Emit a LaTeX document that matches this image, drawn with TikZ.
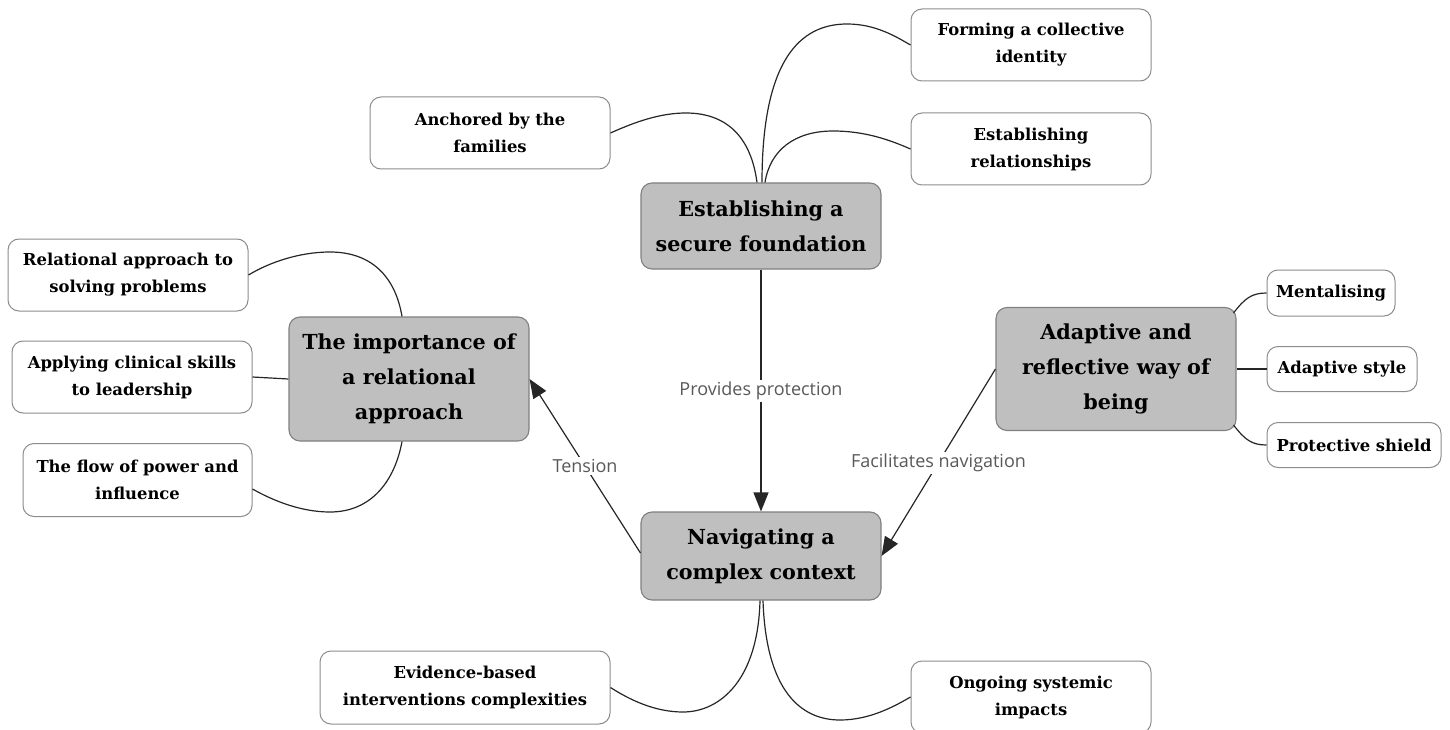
\documentclass[tikz,border=0pt]{standalone}
\usepackage{fontspec}
\setmainfont{DejaVu Serif}
\newfontfamily\labelfont{Open Sans}
\usetikzlibrary{arrows.meta}
\begin{document}
\begin{tikzpicture}[x=1pt,y=-1pt,
  mainbox/.style={draw=black!50, fill=black!25, rounded corners=11pt, line width=1.1pt, align=center,
    font=\fontsize{20.7}{35}\selectfont\bfseries, inner sep=0pt},
  leafbox/.style={draw=black!45, fill=white, rounded corners=11pt, line width=1pt, align=center,
    font=\fontsize{16.4}{27}\selectfont\bfseries, inner sep=0pt},
  link/.style={line width=1.2pt, black!85},
  arrowlink/.style={link, -{Triangle[length=19pt,width=15pt]}},
  lbl/.style={font=\labelfont\fontsize{18}{20}\selectfont, text=black!65, fill=white, inner sep=2pt}
]
\useasboundingbox (0,0) rectangle (1450,730);

% main nodes
\node[mainbox, minimum width=240pt, minimum height=86pt] (est) at (761,226) {Establishing a\\secure foundation};
\node[mainbox, minimum width=240pt, minimum height=124pt] (imp) at (409,379) {The importance of\\a relational\\approach};
\node[mainbox, minimum width=240pt, minimum height=123pt] (adp) at (1116,369) {Adaptive and\\reflective way of\\being};
\node[mainbox, minimum width=240pt, minimum height=88pt] (nav) at (761,556) {Navigating a\\complex context};

% leaf nodes
\node[leafbox, minimum width=240pt, minimum height=72pt] (form) at (1031,45) {Forming a collective\\identity};
\node[leafbox, minimum width=240pt, minimum height=72pt] (erel) at (1031,149) {Establishing\\relationships};
\node[leafbox, minimum width=240pt, minimum height=72pt] (anch) at (490,133) {Anchored by the\\families};
\node[leafbox, minimum width=240pt, minimum height=72pt] (rel) at (128,275) {Relational approach to\\solving problems};
\node[leafbox, minimum width=240pt, minimum height=72pt] (appl) at (132,377) {Applying clinical skills\\to leadership};
\node[leafbox, minimum width=229pt, minimum height=73pt] (flow) at (137.5,480) {The flow of power and\\influence};
\node[leafbox, minimum width=128pt, minimum height=46pt] (ment) at (1331,293) {Mentalising};
\node[leafbox, minimum width=150pt, minimum height=45pt] (asty) at (1342,369) {Adaptive style};
\node[leafbox, minimum width=174pt, minimum height=45pt] (prot) at (1354,445) {Protective shield};
\node[leafbox, minimum width=290pt, minimum height=73pt] (evi) at (465,687.5) {Evidence-based\\interventions complexities};
\node[leafbox, minimum width=240pt, minimum height=72pt] (ong) at (1031,697) {Ongoing systemic\\impacts};

% curved links around Establishing
\draw[link] ([xshift=1pt]est.north) .. controls (762,60) and (800,24) .. (847,24)
  .. controls (875,24) and (895,36) .. (form.west);
\draw[link] ([xshift=4pt]est.north) .. controls (770,150) and (795,131) .. (833,131)
  .. controls (865,131) and (890,140) .. (erel.west);
\draw[link] ([xshift=-4pt]est.north) .. controls (750,130) and (720,113) .. (686,113)
  .. controls (660,113) and (635,122) .. (anch.east);

% links around Importance
\draw[link] ([xshift=-7pt]imp.north) .. controls (395,275) and (370,252) .. (330,252)
  .. controls (300,252) and (270,262) .. (rel.east);
\draw[link] (imp.west) -- (appl.east);
\draw[link] ([xshift=-7pt]imp.south) .. controls (395,480) and (372,512) .. (330,512)
  .. controls (300,512) and (272,500) .. ([yshift=-9pt]flow.east);

% links around Adaptive
\draw[link] ([shift={(-3pt,-6pt)}]adp.north east) .. controls (1245,298) and (1252,293) .. (ment.west);
\draw[link] (adp.east) -- (asty.west);
\draw[link] ([shift={(-3pt,6pt)}]adp.south east) .. controls (1245,440) and (1252,445) .. (prot.west);

% links below Navigating
\draw[link] ([xshift=-1pt]nav.south) .. controls (758,680) and (720,712) .. (683,712)
  .. controls (655,712) and (630,700) .. (evi.east);
\draw[link] ([xshift=2pt]nav.south) .. controls (766,690) and (800,720) .. (840,720)
  .. controls (870,720) and (895,706) .. (ong.west);

% labelled arrows
\draw[arrowlink] (est.south) -- node[lbl] {Provides protection} (nav.north);
\draw[arrowlink] ([yshift=3pt]nav.west) -- node[lbl] {Tension} (imp.east);
\draw[arrowlink] (adp.west) -- node[lbl] {Facilitates navigation} (nav.east);
\end{tikzpicture}
\end{document}
